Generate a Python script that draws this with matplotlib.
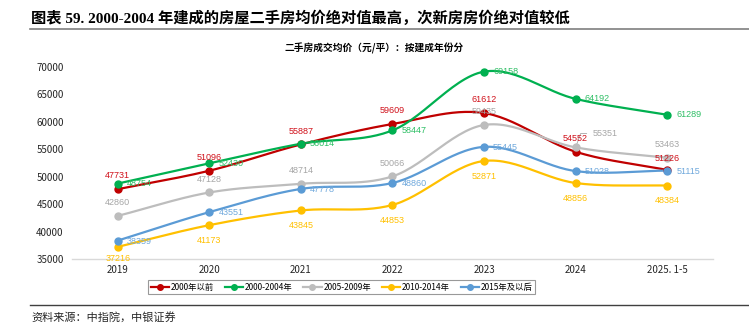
import numpy as np
import matplotlib
matplotlib.use("Agg")
import matplotlib.pyplot as plt
from matplotlib.lines import Line2D

plt.rcParams['font.family'] = ['Noto Sans CJK SC', 'DejaVu Sans']

# данные
years = ['2019', '2020', '2021', '2022', '2023', '2024', '2025. 1-5']
series_names = ['2000年以前', '2000-2004年', '2005-2009年', '2010-2014年', '2015年及以后']
before_2000 = [47731, 51096, 55887, 59609, 61612, 54552, 51226]
y2000_2004 = [48754, 52430, 56014, 58447, 69158, 64192, 61289]
y2005_2009 = [42860, 47128, 48714, 50066, 59435, 55351, 53463]
y2010_2014 = [37216, 41173, 43845, 44853, 52871, 48856, 48384]
after_2015 = [38359, 43551, 47778, 48860, 55445, 51028, 51115]

colors = ['#C00000', '#00B050', '#BDBDBD', '#FFC000', '#5B9BD5']
label_colors = ['#D0101A', '#2DBE64', '#A6A6A6', '#FFC000', '#6FA8DC']
all_series = [before_2000, y2000_2004, y2005_2009, y2010_2014, after_2015]

# смещения подписей (в пунктах) по умолчанию и отдельные исключения
default_off = [(0, 9.5), (6.5, 0), (0, 9.5), (0, -11), (6.5, -0.5)]
overrides = {
    (0, 6): (0, 8.5),
    (3, 0): (0, -8.5),
}


def smooth(xs, ys, n=30):
    # сглаживание как в Excel (Catmull-Rom)
    px = np.concatenate([[2 * xs[0] - xs[1]], xs, [2 * xs[-1] - xs[-2]]])
    py = np.concatenate([[2 * ys[0] - ys[1]], ys, [2 * ys[-1] - ys[-2]]])
    out_x, out_y = [], []
    for i in range(1, len(px) - 2):
        t = np.linspace(0, 1, n)
        for arr, out in ((px, out_x), (py, out_y)):
            p0, p1, p2, p3 = arr[i - 1], arr[i], arr[i + 1], arr[i + 2]
            out.extend(0.5 * ((2 * p1) + (-p0 + p2) * t
                              + (2 * p0 - 5 * p1 + 4 * p2 - p3) * t ** 2
                              + (-p0 + 3 * p1 - 3 * p2 + p3) * t ** 3))
    return np.array(out_x), np.array(out_y)


fig = plt.figure(figsize=(7.49, 3.32), dpi=100)
ax = fig.add_axes([0.0961, 0.2199, 0.8558, 0.5782])

x = np.arange(len(years), dtype=float)
num_font = ['Liberation Sans', 'DejaVu Sans']
for k, vals in enumerate(all_series):
    sx, sy = smooth(x, np.array(vals, dtype=float))
    ax.plot(sx, sy, color=colors[k], lw=1.6, zorder=3)
    ax.plot(x, vals, 'o', color=colors[k], ms=5, zorder=4)
    for i, v in enumerate(vals):
        if k == 2 and i == 5:
            ax.annotate(f'{v}', xy=(i, v), xytext=(12, 10), textcoords='offset points',
                        fontsize=6.5, color=label_colors[k], va='center', ha='left',
                        arrowprops=dict(arrowstyle='-', color='#A6A6A6', lw=0.6,
                                        connectionstyle='angle,angleA=0,angleB=70,rad=0'),
                        family=num_font)
            continue
        dx, dy = overrides.get((k, i), default_off[k])
        ha = 'left' if dx > 0 else 'center'
        ax.annotate(f'{v}', xy=(i, v), xytext=(dx, dy),
                    textcoords='offset points', fontsize=6.5, color=label_colors[k],
                    ha=ha, va='center', zorder=5, family=num_font)

ax.set_xlim(-0.5, len(years) - 0.5)
ax.set_ylim(35000, 70000)
ax.set_yticks(np.arange(35000, 70001, 5000))
ax.set_xticks(x)
ax.set_xticklabels(years)
ax.tick_params(axis='both', length=0, labelsize=7, colors='#262626', pad=4.5)
ax.tick_params(axis='y', pad=6)
for s in ['top', 'right', 'left']:
    ax.spines[s].set_visible(False)
ax.spines['bottom'].set_color('#D9D9D9')
ax.spines['bottom'].set_linewidth(1)

# легенда
handles = [Line2D([0], [0], color=c, lw=1.6, marker='o', ms=4) for c in colors]
leg = fig.legend(handles, series_names, loc='center', bbox_to_anchor=(0.456, 0.1355),
                 ncol=5, fontsize=6, frameon=True, fancybox=False, handlelength=2.2,
                 columnspacing=1.3, handletextpad=0.2, borderpad=0.3)
leg.get_frame().set_edgecolor('#808080')
leg.get_frame().set_linewidth(0.8)

# заголовки и оформление
fig.text(0.042, 0.945, '图表 59. 2000-2004 年建成的房屋二手房均价绝对值最高，次新房房价绝对值较低',
         fontsize=11, fontweight='bold', va='center', ha='left',
         family=['Liberation Serif', 'Noto Sans CJK SC'])
fig.add_artist(Line2D([0.04, 1.0], [0.912, 0.912], color='#7F7F7F', lw=1.2))
fig.text(0.5, 0.855, '二手房成交均价（元/平）：按建成年份分', fontsize=7, fontweight='bold',
         ha='center', va='center')
fig.add_artist(Line2D([0.04, 1.0], [0.081, 0.081], color='#404040', lw=1.0))
fig.text(0.042, 0.045, '资料来源：中指院，中银证券', fontsize=8, style='italic',
         ha='left', va='center', color='#262626')

fig.savefig('out.png', dpi=100)
